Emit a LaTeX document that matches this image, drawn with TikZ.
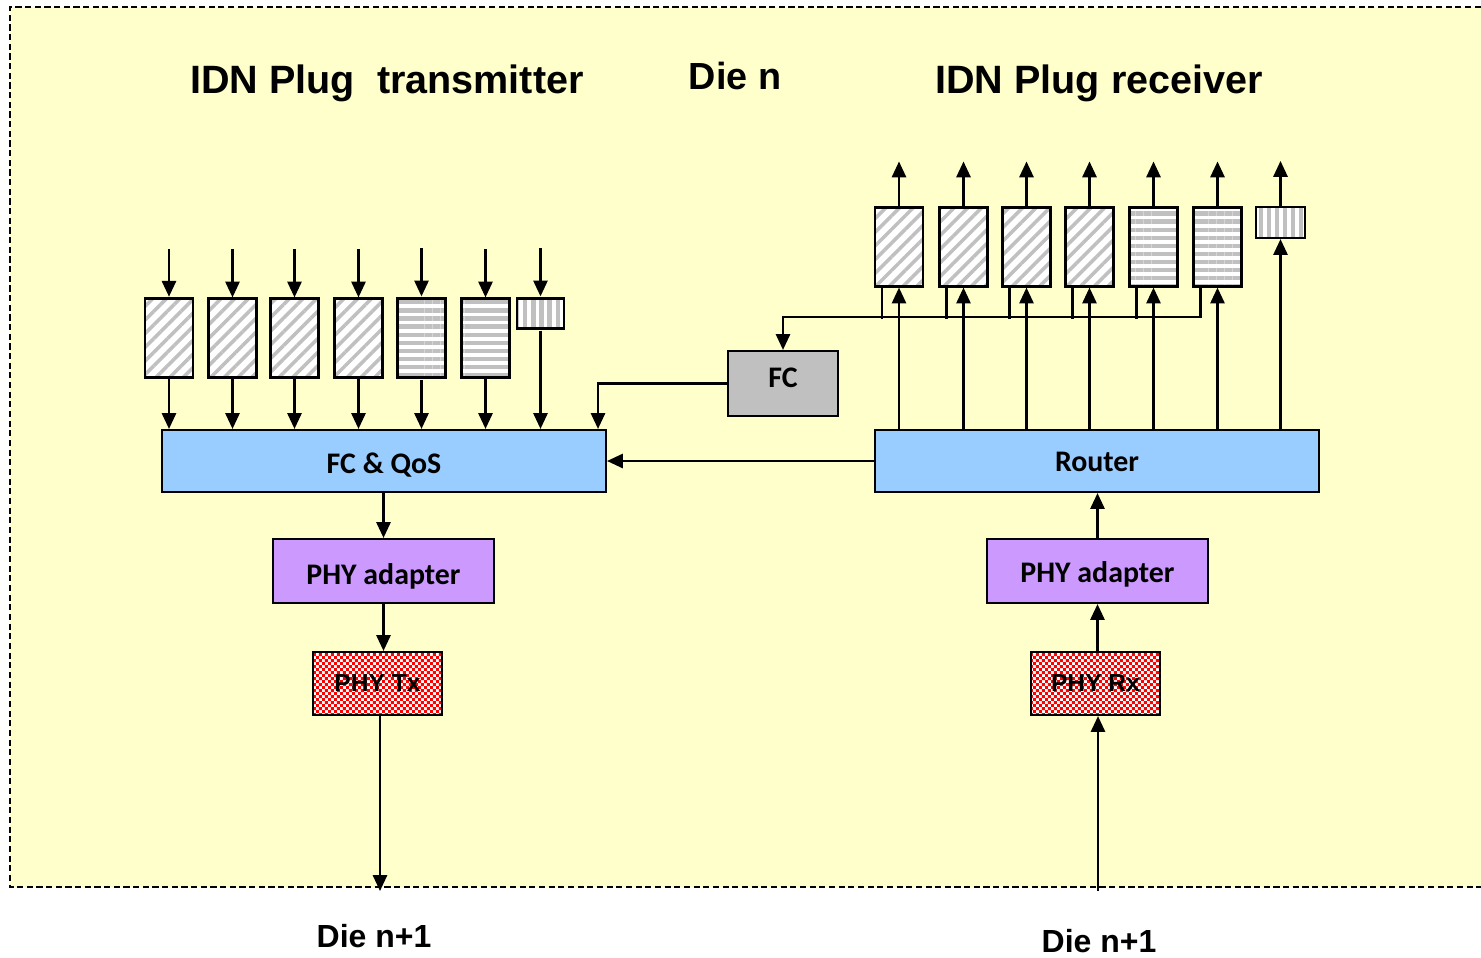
\documentclass[tikz,border=0pt]{standalone}
\usepackage{fontspec}
\setmainfont{Liberation Sans}
\newfontfamily\boxfont{Carlito}
\usetikzlibrary{arrows.meta,patterns,patterns.meta,calc}

\definecolor{paper}{HTML}{FFFFCC}
\definecolor{blockblue}{HTML}{99CCFF}
\definecolor{phypurple}{HTML}{CC99FF}
\definecolor{fcgray}{HTML}{C0C0C0}
\definecolor{stripe}{HTML}{C0C0C0}

% label set with its baseline a given distance below the block centre
\newcommand{\blocktext}[2]{\raisebox{-#1}[0pt][0pt]{#2}}

% small red/white checkerboard for the PHY Tx / PHY Rx blocks
\pgfdeclarepatternformonly{redcheck}{\pgfpointorigin}{\pgfpoint{3.4pt}{3.4pt}}{\pgfpoint{3.4pt}{3.4pt}}{%
  \pgfpathrectangle{\pgfpointorigin}{\pgfpoint{1.7pt}{1.7pt}}%
  \pgfpathrectangle{\pgfpoint{1.7pt}{1.7pt}}{\pgfpoint{1.7pt}{1.7pt}}%
  \pgfusepath{fill}}

\tikzset{
  tallq/.style={draw, line width=1.2pt, inner sep=0pt, minimum width=0.96cm, minimum height=1.58cm, preaction={fill=white}},
  diagq/.style={tallq, pattern={Lines[angle=45,distance=5.5pt,line width=2pt]}, pattern color=stripe},
  horzq/.style={tallq, pattern={Lines[angle=0,distance=4.6pt,line width=2.4pt]}, pattern color=stripe},
  shortq/.style={draw, line width=1.2pt, inner sep=0pt, minimum width=0.95cm, minimum height=0.6cm, preaction={fill=white},
    pattern={Lines[angle=90,distance=4.6pt,line width=2.4pt]}, pattern color=stripe},
  block/.style={draw, line width=1.2pt, inner sep=0pt, font=\boxfont\bfseries\fontsize{17}{20}\selectfont},
  bus/.style={block, fill=blockblue, minimum width=8.88cm, minimum height=1.24cm},
  adapter/.style={block, fill=phypurple, minimum width=4.42cm, minimum height=1.28cm},
  fcbox/.style={block, fill=fcgray, minimum width=2.2cm, minimum height=1.3cm},
  phybox/.style={draw, line width=1.2pt, inner sep=0pt, minimum width=2.58cm, minimum height=1.26cm,
    preaction={fill=white}, pattern=redcheck, pattern color=red, font=\bfseries\fontsize{14}{16}\selectfont},
  title/.style={font=\bfseries\fontsize{22.5}{26}\selectfont, anchor=base, inner sep=0pt},
  dielabel/.style={font=\bfseries\fontsize{18.2}{21}\selectfont, anchor=base, inner sep=0pt},
  link/.style={line width=1.4pt},
}

\begin{document}
\begin{tikzpicture}[x=0.02cm, y=-0.02cm, >={Triangle[width=8pt,length=9pt]}]
\useasboundingbox (0,0) rectangle (1481,957);

% die area
\fill[paper] (10,7) rectangle (1500,887);
\draw[line width=1.2pt, dash pattern=on 3.5pt off 2pt] (1500,7) -- (10,7) -- (10,887) -- (1500,887);

% titles
\node[title] (ttx) at (387,93) {IDN Plug\ \ transmitter};
\node[title, font=\bfseries\fontsize{21.5}{24}\selectfont] (tdie) at (735,89) {Die n};
\node[title] (trx) at (1099,93) {IDN Plug receiver};

% transmitter side
\node[bus] (fcqos) at (384,461) {\blocktext{7.2pt}{FC \& QoS}};
\foreach \i/\x in {1/169,2/232.5,3/294.5,4/358.5} \node[diagq] (t\i) at (\x,338) {};
\foreach \i/\x in {5/421.5,6/485.5} \node[horzq] (t\i) at (\x,338) {};
\node[shortq] (t7) at (540.5,313.5) {};
\foreach \i in {1,...,6} {
  \draw[link,->] ($(t\i.north)+(0,-48)$) -- (t\i.north);
  \draw[link,->] (t\i.south) -- (t\i.south |- fcqos.north);
}
\draw[link,->] ($(t7.north)+(0,-48)$) -- (t7.north);
\draw[link,->] (t7.south) -- (t7.south |- fcqos.north);

\node[adapter] (phyl) at (383.5,571) {\blocktext{7.8pt}{PHY adapter}};
\node[phybox] (phytx) at (377.5,683.5) {PHY Tx};
\coordinate (txout) at (380,891);
\draw[link,->] (phyl.north |- fcqos.south) -- (phyl.north);
\draw[link,->] (phyl.south) -- (phyl.south |- phytx.north);
\draw[link,->] (phytx.south -| txout) -- (txout);
\node[dielabel] (dtx) at (374,947) {Die n+1};

% flow control
\node[fcbox] (fc) at (783,383.5) {\blocktext{2.4pt}{FC}};
\draw[link,->] (fc.west) -| ($(fcqos.north east)+(-9,0)$);

% receiver side
\node[bus] (router) at (1097,461) {\blocktext{6.1pt}{Router}};
\foreach \i/\x in {1/899,2/963.5,3/1026.5,4/1089.5} \node[diagq] (r\i) at (\x,247) {};
\foreach \i/\x in {5/1153.5,6/1217.5} \node[horzq] (r\i) at (\x,247) {};
\node[shortq, minimum width=0.98cm, minimum height=0.62cm] (r7) at (1280.5,222.5) {};
\foreach \i in {1,...,7} {
  \draw[link,->] (r\i.south |- router.north) -- (r\i.south);
  \draw[link,->] (r\i.north) -- ++(0,-45);
}
\foreach \i in {1,...,5} \draw[link] ($(r\i.south west)+(8,0)$) -- ++(0,31);
\draw[link,->] ($(r6.south west)+(8,0)$) |- ($(fc.north)+(0,-33)$) -- (fc.north);

\draw[link,->] (router.west) -- (fcqos.east);

\node[adapter] (phyr) at (1097.5,571) {\blocktext{6.6pt}{PHY adapter}};
\node[phybox] (phyrx) at (1095.5,683.5) {PHY Rx};
\coordinate (rxin) at (1098,891);
\draw[link,->] (phyr.north) -- (phyr.north |- router.south);
\draw[link,->] (phyrx.north -| phyr.south) -- (phyr.south);
\draw[link,->] (rxin) -- (rxin |- phyrx.south);
\node[dielabel] (drx) at (1099,952) {Die n+1};
\end{tikzpicture}
\end{document}
